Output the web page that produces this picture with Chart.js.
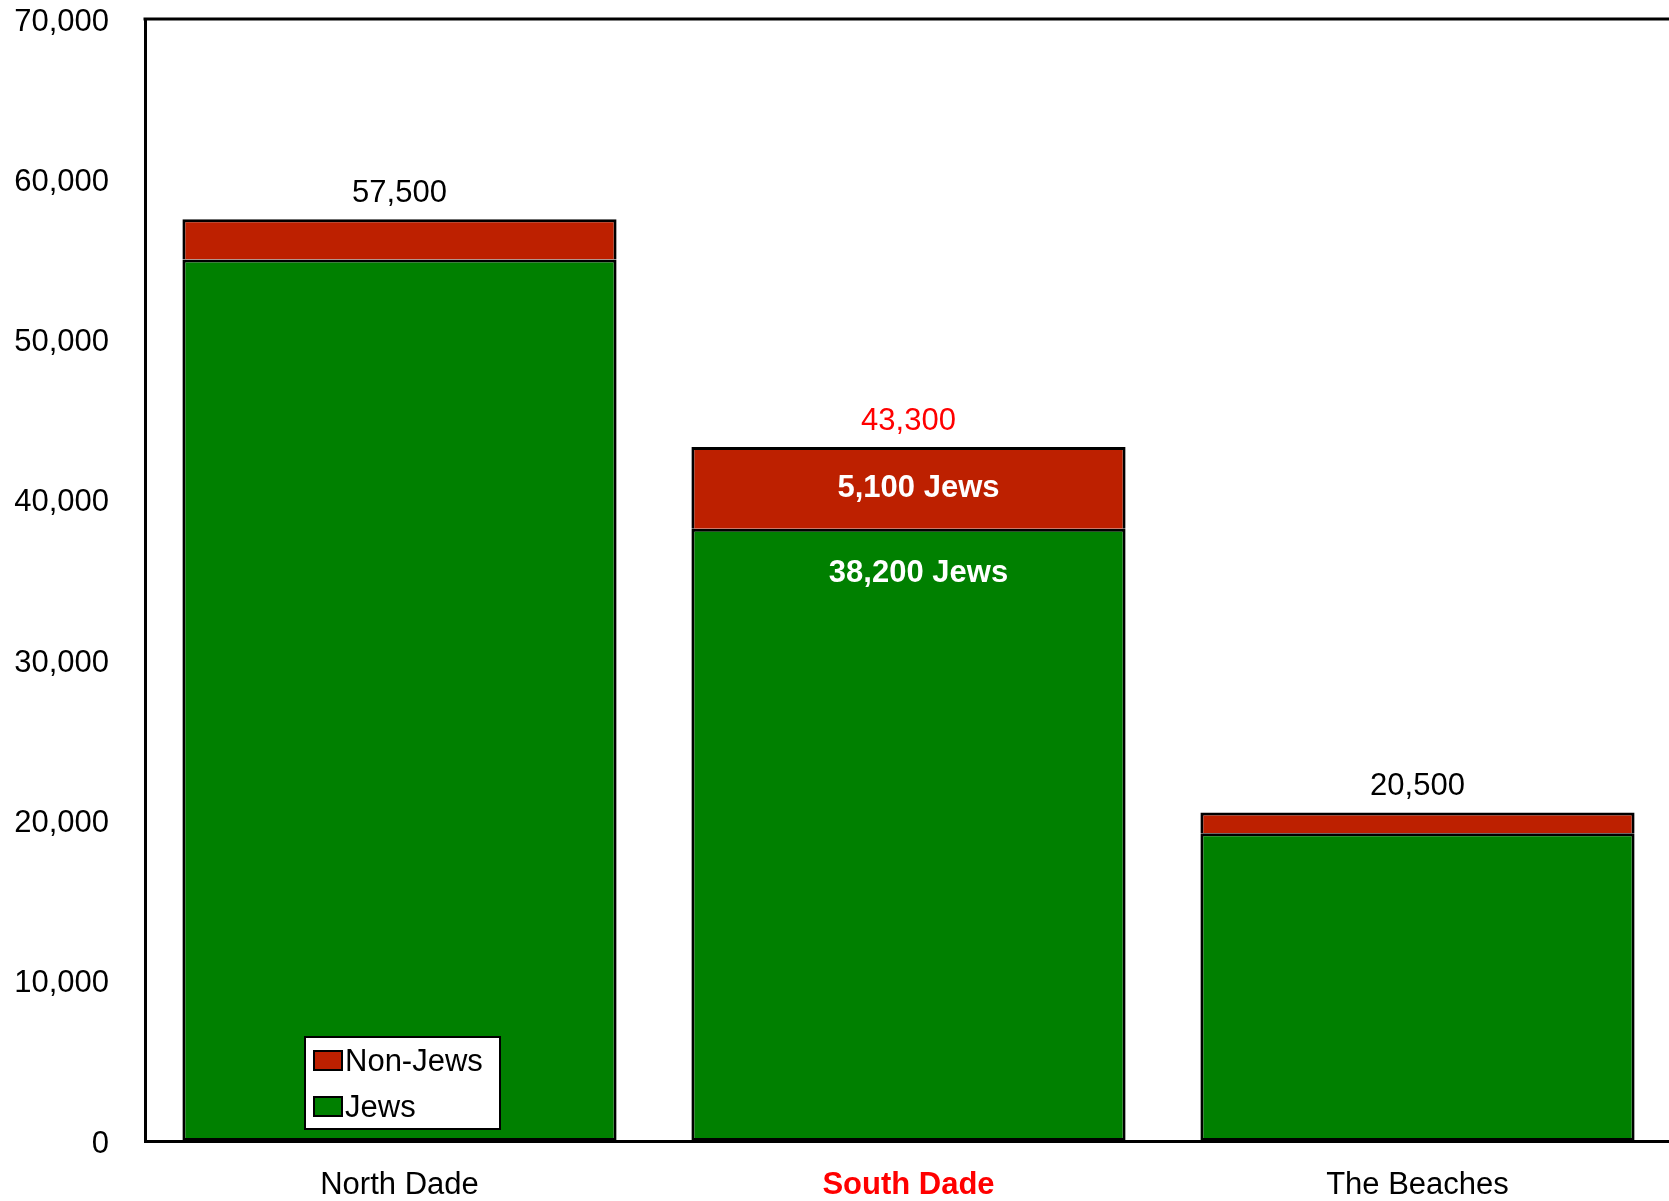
<!DOCTYPE html>
<html>
<head>
<meta charset="utf-8">
<script src="https://cdn.jsdelivr.net/npm/chart.js@4.4.1/dist/chart.umd.min.js"></script>
<style>
    html, body { margin: 0; padding: 0; background: #fff; overflow: hidden; }
    #wrap { width: 1672px; height: 1201px; position: relative; }
</style>
</head>
<body>
<div id="wrap"><canvas id="popChart"></canvas></div>
<script>
// data
const regions = ["North Dade", "South Dade", "The Beaches"];
const jews = [55000, 38200, 19200];
const nonJews = [2500, 5100, 1300];
const yMax = 70000;
const yStep = 10000;
const highlightRegion = "South Dade";

const FONT = "'Liberation Sans', Arial, Helvetica, sans-serif";
const RED = "#bd2000";
const GREEN = "#008000";
const fmt = (v) => v.toLocaleString("en-US");

// top frame line, value labels and the boxed legend
const extras = {
    id: "extras",
    afterDatasetsDraw(chart) {
        const ctx = chart.ctx;
        const area = chart.chartArea;
        const top = chart.getDatasetMeta(1);
        const bottom = chart.getDatasetMeta(0);

        ctx.save();
        ctx.strokeStyle = "#000";
        ctx.lineWidth = 3;
        ctx.beginPath();
        ctx.moveTo(area.left - 1.5, area.top);
        ctx.lineTo(area.right, area.top);
        ctx.stroke();

        ctx.textAlign = "center";
        ctx.textBaseline = "middle";
        regions.forEach((r, i) => {
            const bar = top.data[i];
            const hi = r === highlightRegion;
            ctx.font = "31px " + FONT;
            ctx.fillStyle = hi ? "#ff0000" : "#000";
            ctx.fillText(fmt(jews[i] + nonJews[i]), bar.x, bar.y - 26);
            if (hi) {
                ctx.font = "bold 31px " + FONT;
                ctx.fillStyle = "#fff";
                ctx.fillText(fmt(nonJews[i]) + " Jews", bar.x + 10, (bar.y + bar.base) / 2 + 1);
                ctx.fillText(fmt(jews[i]) + " Jews", bar.x + 10, bottom.data[i].y + 45);
            }
        });

        // legend box
        const lx = area.left + 160, ly = area.bottom - 104;
        ctx.fillStyle = "#fff";
        ctx.fillRect(lx, ly, 195, 92);
        ctx.lineWidth = 2;
        ctx.strokeRect(lx, ly, 195, 92);
        const items = chart.data.datasets.slice().reverse();
        ctx.textAlign = "left";
        ctx.font = "31px " + FONT;
        items.forEach((ds, k) => {
            const cy = ly + 24 + k * 46;
            ctx.fillStyle = ds.backgroundColor;
            ctx.fillRect(lx + 9, cy - 10, 28, 19);
            ctx.strokeRect(lx + 9, cy - 10, 28, 19);
            ctx.fillStyle = "#000";
            ctx.fillText(ds.label, lx + 40, cy + 1);
        });
        ctx.restore();
    },
};

new Chart(document.getElementById("popChart"), {
    type: "bar",
    data: {
        labels: regions,
        datasets: [
            {
                label: "Jews",
                data: jews,
                backgroundColor: GREEN,
                borderWidth: 3,
            },
            {
                label: "Non-Jews",
                data: nonJews,
                backgroundColor: RED,
                borderWidth: { top: 3, left: 3, right: 3, bottom: 0 },
            },
        ],
    },
    options: {
        responsive: true,
        maintainAspectRatio: false,
        animation: false,
        layout: { padding: 0 },
        datasets: {
            bar: {
                categoryPercentage: 1,
                barPercentage: 0.853,
                borderColor: "#000",
                borderSkipped: false,
            },
        },
        plugins: {
            legend: { display: false },
            tooltip: { enabled: false },
        },
        scales: {
            x: {
                stacked: true,
                grid: { display: false, drawTicks: false },
                border: { display: true, color: "#000", width: 3 },
                afterFit: (scale) => { scale.height = 60; },
                ticks: {
                    padding: 26,
                    font: (c) => ({
                        family: FONT,
                        size: 31,
                        weight: regions[c.index] === highlightRegion ? "bold" : "normal",
                    }),
                    color: (c) => (regions[c.index] === highlightRegion ? "#ff0000" : "#000"),
                },
            },
            y: {
                stacked: true,
                min: 0,
                max: yMax,
                grid: { display: false, drawTicks: false },
                border: { display: true, color: "#000", width: 3 },
                afterFit: (scale) => {
                    scale.width = 145;
                    scale.paddingTop = 19;
                    scale.paddingBottom = 0;
                },
                ticks: {
                    stepSize: yStep,
                    padding: 36,
                    labelOffset: 3,
                    color: "#000",
                    font: { family: FONT, size: 31 },
                    callback: (v) => fmt(v),
                },
            },
        },
    },
    plugins: [extras],
});
</script>
</body>
</html>
